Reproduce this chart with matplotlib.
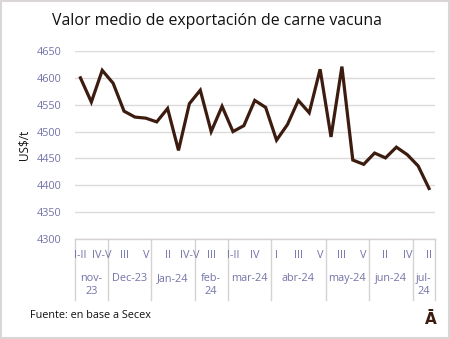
import matplotlib
matplotlib.use("Agg")
import matplotlib.pyplot as plt
from matplotlib.patches import Rectangle
from matplotlib.transforms import blended_transform_factory

months = ["nov-\n23", "Dec-23", "Jan-24", "feb-\n24", "mar-24", "abr-24", "may-24", "jun-24", "jul-\n24"]
weeks = [
    ["I-II", "III", "IV-V"],
    ["II", "III", "IV", "V"],
    ["I", "II", "III", "IV-V"],
    ["II", "III", "IV"],
    ["I-II", "III", "IV", "V"],
    ["I", "II", "III", "IV", "V"],
    ["II", "III", "IV", "V"],
    ["I", "II", "III", "IV"],
    ["I", "II"],
]
values = [4600, 4555, 4614, 4590, 4538, 4527, 4525, 4518, 4543, 4465, 4552,
          4577, 4500, 4547, 4500, 4511, 4558, 4545, 4484, 4513, 4558, 4535,
          4616, 4490, 4621, 4447, 4439, 4460, 4451, 4471, 4457, 4436, 4394]
yticks = [4300, 4350, 4400, 4450, 4500, 4550, 4600, 4650]

plt.rcParams['font.family'] = ['Open Sans', 'DejaVu Sans']

W, H = 450, 339
fig = plt.figure(figsize=(W / 100, H / 100), dpi=100)
fig.patch.set_facecolor("white")
fig.patches.append(Rectangle((0.002, 0.003), 0.995, 0.994, transform=fig.transFigure,
                             fill=False, edgecolor="#DAD6D6", linewidth=1.5))

L, R, T, B = 75, 434.5, 51, 239
ax = fig.add_axes([L / W, 1 - B / H, (R - L) / W, (B - T) / H])

x = list(range(len(values)))
ax.plot(x, values, color="#3D1C10", linewidth=2.3, solid_joinstyle="miter", zorder=3)

ax.set_xlim(-0.5, len(values) - 0.5)
ax.set_ylim(yticks[0], yticks[-1])
ax.set_yticks(yticks)
ax.tick_params(axis="y", length=0, pad=10, labelsize=7.8, labelcolor="#7373A8")
ax.grid(axis="y", color="#DCDADA", linewidth=1)
ax.set_axisbelow(True)
for s in ["top", "right", "left"]:
    ax.spines[s].set_visible(False)
ax.spines["bottom"].set_color("#D6D2D2")
ax.spines["bottom"].set_linewidth(1)
ax.set_xticks([])

ax.set_ylabel("US$/t", fontsize=8.5, color="#111111", labelpad=4)

trans = blended_transform_factory(ax.transData, ax.transAxes)
hpx = B - T
wk_y = -(255 - B) / hpx
mo_y = -(273 - B) / hpx
sep_bottom = -(300 - B) / hpx

idx = 0
bounds = [-0.5]
for m, wl in zip(months, weeks):
    start = idx
    for w in wl:
        if idx % 2 == 0:
            ax.text(idx, wk_y, w, transform=trans, ha="center", va="center",
                    fontsize=7.8, color="#7373A8")
        idx += 1
    center = (start + idx - 1) / 2
    ax.text(center, mo_y, m, transform=trans, ha="center", va="top",
            fontsize=7.8, color="#7373A8", linespacing=1.25)
    bounds.append(idx - 0.5)

for b in bounds:
    ax.plot([b, b], [0, sep_bottom], transform=trans, color="#D6D2D2",
            linewidth=1, clip_on=False)

fig.text(52 / W, 1 - 21 / H, "Valor medio de exportación de carne vacuna",
         fontsize=11.4, color="#111111", ha="left", va="center")
fig.text(30 / W, 1 - 316 / H, "Fuente: en base a Secex", fontsize=7.8,
         color="#111111", ha="left", va="center")
fig.text(431 / W, 1 - 319 / H, "Ā", fontsize=11, fontweight="bold",
         color="#3D1C10", ha="center", va="center", family="DejaVu Sans")

fig.savefig("out.png", dpi=100, facecolor="white")
